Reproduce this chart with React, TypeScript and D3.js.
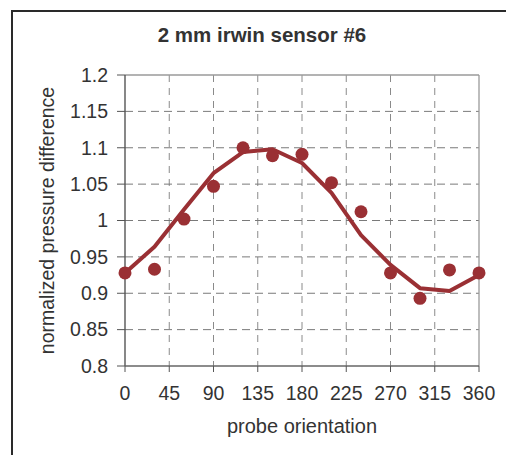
import { line, scaleLinear } from "d3";

const angles = [0, 30, 60, 90, 120, 150, 180, 210, 240, 270, 300, 330, 360];
const measured = [0.928, 0.933, 1.002, 1.047, 1.1, 1.089, 1.091, 1.052, 1.012, 0.928, 0.893, 0.932, 0.928];
const fitted = [0.928, 0.964, 1.015, 1.065, 1.094, 1.098, 1.079, 1.038, 0.98, 0.939, 0.907, 0.903, 0.925];
const xTicks = [0, 45, 90, 135, 180, 225, 270, 315, 360];
const yTicks = [0.8, 0.85, 0.9, 0.95, 1, 1.05, 1.1, 1.15, 1.2];
const yTickLabels = ["0.8", "0.85", "0.9", "0.95", "1", "1.05", "1.1", "1.15", "1.2"];

const W = 506;
const H = 455;
const margin = { top: 75, right: 27, bottom: 89, left: 125 };
const red = "#9a3034";
const font = "'Liberation Sans', Arial, sans-serif";

export default function App() {
  const innerW = W - margin.left - margin.right;
  const innerH = H - margin.top - margin.bottom;
  const x = scaleLinear().domain([0, 360]).range([0, innerW]);
  const y = scaleLinear().domain([0.8, 1.2]).range([innerH, 0]);
  const path = line<number>()
    .x((_, i) => x(angles[i]))
    .y((d) => y(d))(fitted);

  return (
    <svg
      width={W}
      height={H}
      style={{ position: "absolute", left: 0, top: 0, background: "#fff" }}
      fontFamily={font}
    >
      {/* outer frame */}
      <line x1={12} y1={11} x2={W} y2={11} stroke="#2a2a2a" strokeWidth={2} />
      <line x1={12} y1={10} x2={12} y2={H} stroke="#2a2a2a" strokeWidth={2} />

      <text x={262} y={42} textAnchor="middle" fontSize={20.5} fontWeight="bold" fill="#333">
        2 mm irwin sensor #6
      </text>

      <g transform={`translate(${margin.left},${margin.top})`}>
        {xTicks.slice(1, -1).map((t) => (
          <line key={`gx${t}`} x1={x(t)} x2={x(t)} y1={0} y2={innerH} stroke="#8a8a8a" strokeDasharray="7 6" />
        ))}
        {yTicks.slice(1, -1).map((t) => (
          <line key={`gy${t}`} x1={0} x2={innerW} y1={y(t)} y2={y(t)} stroke="#7a7a7a" strokeDasharray="8 5" />
        ))}

        {/* plot border */}
        <line x1={0} x2={innerW} y1={0} y2={0} stroke="#9a9a9a" strokeWidth={1.3} />
        <line x1={innerW} x2={innerW} y1={0} y2={innerH} stroke="#9a9a9a" strokeWidth={1.3} />
        <line x1={0} x2={0} y1={0} y2={innerH} stroke="#555" strokeWidth={1.4} />
        <line x1={0} x2={innerW} y1={innerH} y2={innerH} stroke="#666" strokeWidth={1.4} />

        {yTicks.map((t, i) => (
          <g key={`yt${t}`} transform={`translate(0,${y(t)})`}>
            <line x1={-8} x2={0} stroke="#555" />
            <text x={-17} dy="0.35em" textAnchor="end" fontSize={19.5} fill="#333">
              {yTickLabels[i]}
            </text>
          </g>
        ))}
        {xTicks.map((t) => (
          <g key={`xt${t}`} transform={`translate(${x(t)},${innerH})`}>
            <line y1={0} y2={6} stroke="#555" />
            <text y={34} textAnchor="middle" fontSize={19.5} fill="#333">
              {t}
            </text>
          </g>
        ))}

        <path d={path ?? ""} fill="none" stroke={red} strokeWidth={4} strokeLinejoin="round" />
        {measured.map((v, i) => (
          <circle key={`m${i}`} cx={x(angles[i])} cy={y(v)} r={6.5} fill={red} />
        ))}

        <text x={innerW / 2} y={innerH + 67} textAnchor="middle" fontSize={20} fill="#333">
          probe orientation
        </text>
      </g>

      <text
        transform={`translate(54,${margin.top + (H - margin.top - margin.bottom) / 2}) rotate(-90)`}
        textAnchor="middle"
        fontSize={19.5}
        fill="#333"
      >
        normalized pressure difference
      </text>
    </svg>
  );
}
